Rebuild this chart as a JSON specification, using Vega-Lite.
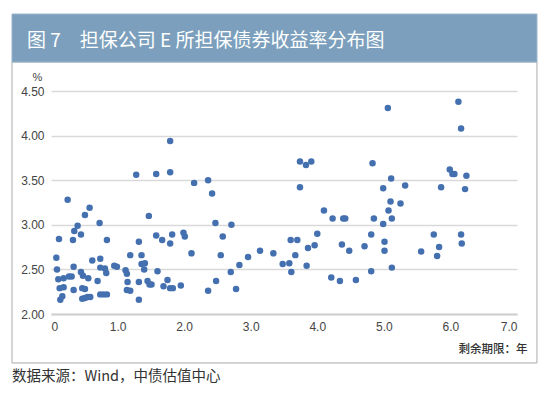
{
  "$schema": "https://vega.github.io/schema/vega-lite/v6.json",
  "autosize": "none",
  "width": 466,
  "height": 223,
  "padding": {"left": 51, "top": 91, "right": 33, "bottom": 82},
  "background": "white",
  "config": {"view": {"stroke": null}},
  "datasets": {
    "bonds": [
      {"term": 1.79, "yield": 3.94}, {"term": 1.28, "yield": 3.56}, {"term": 1.58, "yield": 3.57}, {"term": 1.79, "yield": 3.59},
      {"term": 2.15, "yield": 3.47}, {"term": 0.25, "yield": 3.28}, {"term": 0.58, "yield": 3.19}, {"term": 0.51, "yield": 3.11},
      {"term": 1.47, "yield": 3.10}, {"term": 0.40, "yield": 2.99}, {"term": 0.35, "yield": 2.93}, {"term": 0.73, "yield": 3.02},
      {"term": 0.45, "yield": 2.89}, {"term": 0.12, "yield": 2.84}, {"term": 0.33, "yield": 2.83}, {"term": 0.84, "yield": 2.83},
      {"term": 1.32, "yield": 2.81}, {"term": 1.58, "yield": 2.88}, {"term": 1.67, "yield": 2.83}, {"term": 1.79, "yield": 2.79},
      {"term": 1.82, "yield": 2.89}, {"term": 1.99, "yield": 2.91}, {"term": 2.01, "yield": 2.87}, {"term": 2.11, "yield": 2.68},
      {"term": 1.19, "yield": 2.66}, {"term": 1.36, "yield": 2.66}, {"term": 0.08, "yield": 2.63}, {"term": 0.62, "yield": 2.60},
      {"term": 0.74, "yield": 2.62}, {"term": 1.36, "yield": 2.56}, {"term": 1.41, "yield": 2.57}, {"term": 1.40, "yield": 2.50},
      {"term": 1.60, "yield": 2.48}, {"term": 0.09, "yield": 2.50}, {"term": 0.34, "yield": 2.53}, {"term": 0.74, "yield": 2.52},
      {"term": 0.81, "yield": 2.51}, {"term": 0.83, "yield": 2.46}, {"term": 0.95, "yield": 2.54}, {"term": 0.99, "yield": 2.53},
      {"term": 1.12, "yield": 2.49}, {"term": 1.14, "yield": 2.45}, {"term": 0.45, "yield": 2.47}, {"term": 0.48, "yield": 2.43},
      {"term": 0.56, "yield": 2.40}, {"term": 0.11, "yield": 2.39}, {"term": 0.19, "yield": 2.40}, {"term": 0.27, "yield": 2.42},
      {"term": 0.31, "yield": 2.42}, {"term": 0.70, "yield": 2.37}, {"term": 1.15, "yield": 2.36}, {"term": 1.32, "yield": 2.36},
      {"term": 1.45, "yield": 2.37}, {"term": 1.48, "yield": 2.33}, {"term": 1.51, "yield": 2.33}, {"term": 1.75, "yield": 2.38},
      {"term": 1.69, "yield": 2.31}, {"term": 1.79, "yield": 2.29}, {"term": 1.83, "yield": 2.29}, {"term": 1.95, "yield": 2.32},
      {"term": 0.13, "yield": 2.29}, {"term": 0.19, "yield": 2.30}, {"term": 0.34, "yield": 2.27}, {"term": 0.47, "yield": 2.29},
      {"term": 0.51, "yield": 2.28}, {"term": 1.14, "yield": 2.27}, {"term": 1.19, "yield": 2.26}, {"term": 0.14, "yield": 2.16},
      {"term": 0.17, "yield": 2.20}, {"term": 0.47, "yield": 2.17}, {"term": 0.51, "yield": 2.18}, {"term": 0.55, "yield": 2.19},
      {"term": 0.59, "yield": 2.19}, {"term": 0.74, "yield": 2.22}, {"term": 0.79, "yield": 2.22}, {"term": 0.84, "yield": 2.22},
      {"term": 1.32, "yield": 2.16},
      {"term": 2.36, "yield": 3.50}, {"term": 2.42, "yield": 3.35}, {"term": 2.47, "yield": 3.02}, {"term": 2.71, "yield": 3.00},
      {"term": 2.58, "yield": 2.87}, {"term": 2.55, "yield": 2.66}, {"term": 2.70, "yield": 2.47}, {"term": 2.83, "yield": 2.55},
      {"term": 2.96, "yield": 2.64}, {"term": 3.14, "yield": 2.71}, {"term": 3.34, "yield": 2.68}, {"term": 3.48, "yield": 2.56},
      {"term": 3.58, "yield": 2.57}, {"term": 3.61, "yield": 2.47}, {"term": 3.67, "yield": 2.66}, {"term": 3.60, "yield": 2.83},
      {"term": 3.70, "yield": 2.83}, {"term": 3.86, "yield": 2.74}, {"term": 3.96, "yield": 2.77}, {"term": 4.00, "yield": 2.90},
      {"term": 3.84, "yield": 2.54}, {"term": 3.74, "yield": 3.71}, {"term": 3.83, "yield": 3.67}, {"term": 3.91, "yield": 3.71},
      {"term": 3.74, "yield": 3.42}, {"term": 4.10, "yield": 3.16}, {"term": 4.23, "yield": 3.07}, {"term": 4.39, "yield": 3.07},
      {"term": 4.42, "yield": 3.07}, {"term": 4.37, "yield": 2.78}, {"term": 4.48, "yield": 2.71}, {"term": 4.21, "yield": 2.41},
      {"term": 4.34, "yield": 2.37}, {"term": 4.58, "yield": 2.38}, {"term": 4.71, "yield": 2.76}, {"term": 4.81, "yield": 2.89},
      {"term": 4.85, "yield": 3.07}, {"term": 4.81, "yield": 2.48}, {"term": 4.83, "yield": 3.69}, {"term": 2.48, "yield": 2.37},
      {"term": 2.36, "yield": 2.26}, {"term": 2.78, "yield": 2.28},
      {"term": 5.06, "yield": 4.31}, {"term": 6.12, "yield": 4.38}, {"term": 6.16, "yield": 4.08}, {"term": 5.99, "yield": 3.62},
      {"term": 6.03, "yield": 3.57}, {"term": 6.06, "yield": 3.57}, {"term": 6.24, "yield": 3.55}, {"term": 5.86, "yield": 3.42},
      {"term": 6.22, "yield": 3.40}, {"term": 5.11, "yield": 3.52}, {"term": 4.99, "yield": 3.41}, {"term": 5.32, "yield": 3.44},
      {"term": 5.10, "yield": 3.26}, {"term": 5.25, "yield": 3.24}, {"term": 5.07, "yield": 3.16}, {"term": 5.12, "yield": 3.07},
      {"term": 4.99, "yield": 3.01}, {"term": 5.75, "yield": 2.89}, {"term": 6.16, "yield": 2.89}, {"term": 5.01, "yield": 2.81},
      {"term": 5.01, "yield": 2.71}, {"term": 5.83, "yield": 2.75}, {"term": 6.17, "yield": 2.79}, {"term": 5.56, "yield": 2.70},
      {"term": 5.80, "yield": 2.65}, {"term": 5.12, "yield": 2.52}
    ]
  },
  "layer": [
    {
      "data": {"values": [{}]},
      "mark": {"type": "rect", "fillOpacity": 0, "stroke": "#ababab", "strokeWidth": 1},
      "encoding": {
        "x": {"datum": -0.586, "type": "quantitative"},
        "x2": {"datum": 7.3},
        "y": {"datum": 4.825, "type": "quantitative"},
        "y2": {"datum": 1.451}
      }
    },
    {
      "data": {"values": [{}]},
      "mark": {"type": "rect", "fill": "#7B9FBC", "stroke": "#9ab4c9", "strokeWidth": 1},
      "encoding": {
        "x": {"datum": -0.586, "type": "quantitative"},
        "x2": {"datum": 7.3},
        "y": {"datum": 5.363, "type": "quantitative"},
        "y2": {"datum": 4.825}
      }
    },
    {
      "data": {"name": "bonds"},
      "mark": {"type": "circle", "size": 42, "opacity": 1, "color": "#4470B0"},
      "encoding": {
        "x": {
          "field": "term", "type": "quantitative",
          "scale": {"domain": [0, 7], "nice": false, "zero": false},
          "axis": {
            "values": [0, 1, 2, 3, 4, 5, 6, 7],
            "labelExpr": "datum.value == 0 ? '0' : format(datum.value, '.1f')",
            "grid": false, "ticks": false,
            "domain": true, "domainColor": "#cfcfcf", "domainWidth": 2,
            "labelFont": "Liberation Sans", "labelFontSize": 12, "labelColor": "#444444", "labelPadding": 7,
            "title": "剩余期限：年",
            "titleFont": "Noto Sans CJK SC", "titleFontSize": 11.5, "titleFontWeight": 500, "titleColor": "#333333",
            "titleX": 476, "titleY": 35, "titleAlign": "right", "titleBaseline": "middle"
          }
        },
        "y": {
          "field": "yield", "type": "quantitative",
          "scale": {"domain": [2, 4.5], "nice": false, "zero": false},
          "axis": {
            "values": [2, 2.5, 3, 3.5, 4, 4.5],
            "format": ".2f",
            "grid": true, "gridColor": "#d9d9d9", "gridWidth": 1.5,
            "ticks": false, "domain": false,
            "labelFont": "Liberation Sans", "labelFontSize": 12, "labelColor": "#444444", "labelPadding": 7,
            "title": "%",
            "titleFont": "Liberation Sans", "titleFontSize": 11, "titleFontWeight": "normal", "titleColor": "#444444",
            "titleAngle": 0, "titleX": -14, "titleY": -14, "titleAlign": "center", "titleBaseline": "middle"
          }
        }
      }
    },
    {
      "data": {"values": [{"label": "图 7　担保公司 E 所担保债券收益率分布图"}]},
      "mark": {"type": "text", "align": "left", "baseline": "middle", "font": "Noto Sans CJK SC", "fontSize": 19, "color": "white"},
      "encoding": {
        "x": {"datum": -0.36, "type": "quantitative"},
        "y": {"datum": 5.066, "type": "quantitative"},
        "text": {"field": "label"}
      }
    },
    {
      "data": {"values": [{"label": "数据来源：Wind，中债估值中心"}]},
      "mark": {"type": "text", "align": "left", "baseline": "middle", "font": "Noto Sans CJK SC", "fontSize": 14.5, "color": "#333333"},
      "encoding": {
        "x": {"datum": -0.586, "type": "quantitative"},
        "y": {"datum": 1.294, "type": "quantitative"},
        "text": {"field": "label"}
      }
    }
  ]
}
